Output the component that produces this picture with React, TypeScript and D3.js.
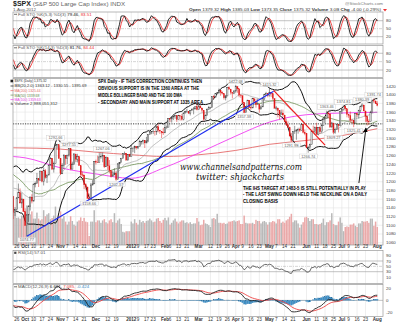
import React from "react";
import * as d3 from "d3";

// ---------- DATA ----------
// warm-up closes Jul 1 2011 .. Sep 21 2011 (for indicators)
const preCloses = [
  1339.67, 1337.88, 1339.22, 1353.22, 1343.8, 1319.49, 1313.64, 1317.72, 1308.87, 1316.14, 1305.44, 1326.73, 1325.84, 1343.8, 1345.02, 1337.43, 1331.94, 1304.89, 1300.67, 1292.28,
  1286.94, 1254.05, 1260.34, 1200.07, 1199.38, 1119.46, 1172.53, 1120.76, 1172.64, 1178.81, 1204.49, 1192.76, 1193.89, 1140.65, 1123.53, 1123.82, 1162.35, 1177.6, 1159.27, 1176.8, 1210.08, 1212.92, 1218.89,
  1204.42, 1173.97, 1165.24, 1198.62, 1185.9, 1154.23, 1162.27, 1172.87, 1188.68, 1209.11, 1216.01, 1204.09, 1202.09, 1166.76,
];
// warm-up highs / lows Sep 1 .. Sep 21 2011
const preHighs = [1230.7, 1203.6, 1165.8, 1198.6, 1204.0, 1185.9, 1162.6, 1176.4, 1202.4, 1209.1, 1220.1, 1216.0, 1220.4, 1204.0];
const preLows = [1195.6, 1170.6, 1136.1, 1165.2, 1183.3, 1148.4, 1136.1, 1157.4, 1162.7, 1189.1, 1204.5, 1188.3, 1201.5, 1166.7];

// displayed days: Sep 22 2011 .. Aug 1 2012
const closes = [
  1129.56, 1136.43, 1162.95, 1175.38, 1151.06, 1160.4, 1131.42,
  1099.23, 1123.95, 1144.03, 1164.97, 1155.46, 1194.89, 1195.54, 1207.25, 1203.66, 1224.58, 1200.86, 1225.38, 1209.88, 1215.39, 1238.25, 1254.19, 1229.05, 1242.0, 1284.59, 1285.09, 1253.3,
  1218.28, 1237.9, 1261.15, 1253.23, 1261.12, 1275.92, 1229.1, 1239.69, 1263.85, 1251.78, 1257.81, 1236.91, 1216.13, 1215.65, 1192.98, 1188.04, 1161.79, 1158.67, 1192.55, 1195.19, 1246.96,
  1244.58, 1244.28, 1257.08, 1258.47, 1261.01, 1234.35, 1255.19, 1236.47, 1225.73, 1211.82, 1215.75, 1219.66, 1205.35, 1241.3, 1243.72, 1254.0, 1265.33, 1265.43, 1249.64, 1263.02, 1257.6,
  1277.06, 1277.3, 1281.06, 1277.81, 1280.7, 1292.08, 1292.48, 1295.5, 1289.09, 1293.67, 1308.04, 1314.5, 1315.38, 1316.0, 1314.65, 1326.06, 1318.43, 1316.33, 1313.01, 1312.41,
  1324.09, 1325.54, 1344.9, 1344.33, 1347.05, 1349.96, 1351.95, 1342.64, 1351.77, 1350.5, 1343.23, 1358.04, 1361.23, 1362.21, 1357.66, 1363.46, 1365.74, 1367.59, 1372.18, 1365.68,
  1374.09, 1369.63, 1364.33, 1343.36, 1352.63, 1365.91, 1370.87, 1371.09, 1395.95, 1394.28, 1402.6, 1404.17, 1409.75, 1405.52, 1402.89, 1392.78, 1397.11, 1416.51, 1412.52, 1405.54, 1403.28, 1408.47,
  1419.04, 1413.38, 1398.96, 1398.08, 1382.2, 1358.59, 1368.71, 1387.57, 1370.26, 1369.57, 1390.78, 1385.14, 1376.92, 1378.53, 1366.94, 1371.97, 1390.69, 1399.98, 1403.36, 1397.91,
  1405.82, 1402.31, 1391.57, 1369.1, 1369.58, 1363.72, 1354.58, 1357.99, 1353.39, 1338.35, 1330.66, 1324.8, 1304.86, 1295.22, 1315.99, 1316.63, 1318.86, 1320.68, 1317.82, 1332.42, 1313.32, 1310.33,
  1278.04, 1278.18, 1285.5, 1315.13, 1314.99, 1325.66, 1308.93, 1324.18, 1314.88, 1329.1, 1342.84, 1344.78, 1357.98, 1355.69, 1325.51, 1335.02, 1313.72, 1319.99, 1331.85, 1329.04, 1362.16,
  1365.51, 1374.02, 1367.58, 1354.68, 1352.46, 1341.47, 1341.45, 1334.76, 1356.78, 1353.64, 1363.67, 1372.78, 1376.51, 1362.66, 1350.52, 1338.31, 1337.89, 1360.02, 1385.97, 1385.3, 1379.32,
  1375.32,
];
const highs = [
  1164.6, 1141.7, 1164.7, 1195.9, 1184.7, 1175.1, 1159.9,
  1138.9, 1125.1, 1146.1, 1165.1, 1171.4, 1194.9, 1200.4, 1220.3, 1203.7, 1224.6, 1224.6, 1233.1, 1229.3, 1216.5, 1239.0, 1256.5, 1254.2, 1246.3, 1292.7, 1287.1, 1284.4,
  1253.2, 1242.5, 1263.2, 1260.2, 1261.7, 1277.6, 1275.9, 1246.2, 1266.0, 1263.9, 1264.3, 1259.6, 1237.8, 1223.5, 1215.6, 1196.8, 1187.5, 1172.7, 1197.4, 1203.7, 1247.0,
  1250.9, 1260.1, 1266.7, 1266.7, 1267.1, 1260.9, 1258.3, 1255.2, 1249.9, 1225.7, 1225.6, 1231.0, 1224.6, 1242.8, 1245.0, 1255.0, 1265.4, 1269.4, 1265.9, 1263.5, 1264.1,
  1284.6, 1278.7, 1283.1, 1282.0, 1281.8, 1296.5, 1293.8, 1296.8, 1295.5, 1303.0, 1308.1, 1315.5, 1315.4, 1322.3, 1315.4, 1328.3, 1333.5, 1319.0, 1316.3, 1324.0,
  1332.0, 1329.2, 1345.3, 1344.4, 1349.2, 1351.0, 1354.3, 1352.0, 1353.4, 1351.6, 1355.9, 1359.0, 1363.4, 1367.8, 1362.2, 1364.2, 1368.9, 1371.9, 1373.1, 1378.0,
  1376.2, 1374.5, 1369.6, 1364.0, 1354.9, 1368.9, 1374.2, 1371.9, 1396.1, 1399.4, 1402.6, 1405.9, 1414.0, 1409.8, 1407.8, 1402.9, 1399.2, 1416.6, 1419.2, 1413.6, 1403.3, 1410.9,
  1422.4, 1419.0, 1413.4, 1401.6, 1398.1, 1383.0, 1373.6, 1388.1, 1387.4, 1379.7, 1392.8, 1390.8, 1390.4, 1391.0, 1378.5, 1375.6, 1391.4, 1402.3, 1406.6, 1403.4,
  1415.3, 1405.5, 1403.1, 1391.6, 1373.9, 1369.6, 1363.7, 1365.9, 1365.9, 1353.4, 1344.9, 1338.7, 1326.4, 1312.2, 1316.0, 1328.5, 1320.7, 1324.1, 1324.2, 1334.9, 1332.4, 1319.7,
  1310.3, 1282.6, 1287.6, 1315.1, 1329.1, 1325.8, 1335.5, 1324.2, 1327.3, 1333.1, 1343.3, 1348.2, 1363.5, 1361.6, 1358.3, 1337.8, 1335.0, 1324.2, 1334.4, 1331.5, 1362.2,
  1366.4, 1374.8, 1373.9, 1367.6, 1354.7, 1361.5, 1345.0, 1341.5, 1357.7, 1357.3, 1365.4, 1375.3, 1380.4, 1376.5, 1362.3, 1351.5, 1343.4, 1363.1, 1389.2, 1391.7, 1387.2,
  1385.0,
];
const lows = [
  1114.2, 1121.4, 1131.1, 1163.0, 1150.4, 1139.9, 1131.3,
  1098.9, 1074.8, 1107.9, 1134.0, 1150.3, 1158.7, 1187.2, 1196.0, 1188.0, 1212.3, 1198.6, 1191.5, 1207.0, 1197.0, 1215.4, 1238.2, 1226.8, 1221.1, 1242.9, 1277.0, 1253.2,
  1215.6, 1218.3, 1229.1, 1238.9, 1240.8, 1257.7, 1226.6, 1229.1, 1239.7, 1246.7, 1244.3, 1236.9, 1209.4, 1211.4, 1183.2, 1181.7, 1161.8, 1158.7, 1158.7, 1191.8, 1196.7,
  1239.7, 1243.4, 1244.3, 1253.0, 1244.8, 1231.5, 1234.4, 1227.2, 1219.4, 1209.5, 1212.0, 1215.2, 1202.4, 1205.5, 1229.5, 1243.7, 1254.0, 1262.3, 1248.6, 1249.6, 1257.5,
  1258.0, 1268.1, 1265.7, 1274.0, 1275.0, 1281.0, 1285.4, 1285.8, 1277.6, 1290.0, 1290.9, 1307.8, 1309.2, 1309.9, 1306.1, 1307.7, 1313.6, 1309.9, 1300.5, 1307.6,
  1312.4, 1321.6, 1325.5, 1337.5, 1335.9, 1341.9, 1344.6, 1337.4, 1342.6, 1340.8, 1340.8, 1341.2, 1357.2, 1358.1, 1355.5, 1352.3, 1363.5, 1354.9, 1366.0, 1363.8,
  1365.9, 1368.9, 1359.1, 1340.0, 1343.4, 1352.6, 1366.0, 1367.1, 1371.1, 1389.8, 1394.0, 1401.1, 1402.4, 1397.7, 1400.6, 1388.7, 1386.9, 1397.1, 1411.9, 1400.7, 1391.4, 1401.4,
  1404.5, 1404.4, 1394.1, 1392.9, 1378.2, 1357.4, 1358.6, 1368.8, 1369.9, 1365.4, 1369.6, 1383.3, 1370.3, 1377.0, 1358.8, 1366.9, 1372.0, 1387.4, 1397.3, 1394.0,
  1395.7, 1394.6, 1387.9, 1367.9, 1363.9, 1347.8, 1343.1, 1355.0, 1348.9, 1336.6, 1328.5, 1324.3, 1304.9, 1292.0, 1295.7, 1310.0, 1296.5, 1310.5, 1314.2, 1318.9, 1311.1, 1306.9,
  1277.3, 1266.7, 1274.3, 1285.6, 1314.1, 1307.8, 1307.7, 1306.6, 1310.5, 1312.1, 1329.4, 1334.5, 1344.9, 1346.5, 1324.4, 1325.9, 1309.3, 1310.3, 1320.2, 1313.3, 1329.0,
  1355.7, 1363.5, 1363.0, 1348.0, 1346.7, 1336.3, 1333.2, 1325.4, 1334.8, 1348.5, 1345.1, 1358.9, 1371.2, 1362.2, 1337.6, 1329.2, 1331.4, 1338.2, 1360.0, 1380.9, 1379.3,
  1373.4,
];
// volume, billions of shares
const volumes = [
  6.7, 5.6, 4.5, 4.6, 4.4, 4.9, 4.9,
  5.6, 6.6, 5.3, 5.1, 5.6, 4.4, 4.4, 5.4, 4.4, 4.1, 4.3, 5.8, 4.8, 5.1, 5.3, 4.3, 4.5, 4.9, 6.4, 4.5, 4.9,
  5.6, 4.4, 4.8, 3.9, 3.4, 3.9, 4.8, 4.0, 3.4, 3.2, 3.9, 4.1, 4.6, 4.0, 4.5, 3.9, 3.8, 1.5, 3.9, 3.9, 5.8,
  3.8, 4.1, 4.1, 3.7, 4.1, 4.3, 3.8, 3.6, 4.1, 4.3, 3.8, 5.3, 3.7, 4.1, 4.4, 3.5, 2.2, 2.1, 2.3, 2.3, 2.3,
  3.9, 3.6, 4.3, 3.7, 3.4, 4.2, 3.8, 4.0, 3.7, 4.0, 4.1, 4.4, 4.1, 3.8, 3.9, 4.4, 4.5, 4.0, 3.7, 4.2,
  4.5, 4.1, 4.6, 3.4, 3.7, 4.1, 4.4, 3.9, 3.6, 3.9, 4.1, 4.1, 3.7, 3.8, 3.6, 3.8, 3.5, 3.6, 3.6, 4.5,
  3.9, 3.3, 3.4, 4.2, 3.6, 3.5, 3.3, 3.0, 4.4, 4.5, 4.3, 5.2, 3.7, 3.7, 3.6, 3.7, 3.5, 3.6, 3.9, 3.9, 4.0, 4.1,
  3.9, 4.0, 4.1, 3.5, 3.5, 4.9, 3.7, 3.6, 3.6, 3.6, 3.7, 3.5, 4.2, 4.0, 4.0, 3.6, 3.9, 4.0, 3.8, 3.4,
  3.8, 3.8, 4.0, 3.9, 3.6, 4.3, 4.3, 3.7, 3.9, 3.7, 4.1, 4.3, 4.7, 5.2, 3.8, 4.1, 4.1, 3.6, 2.9, 3.4, 3.8, 4.6,
  4.7, 4.5, 4.0, 4.3, 4.3, 3.5, 3.5, 3.4, 3.5, 3.7, 4.4, 3.3, 3.8, 3.8, 4.1, 5.3, 3.5, 3.3, 3.3, 3.9, 4.6,
  3.7, 2.3, 3.0, 3.1, 3.0, 3.4, 3.4, 3.6, 3.2, 3.0, 3.6, 3.6, 4.0, 3.9, 3.9, 4.0, 3.7, 4.4, 4.4, 3.2, 3.9,
  3.0,
];

// x-axis tick labels: [label, day index, bold]
const tickLabels: [string, number, boolean][] = [
  ["26", 2, false], ["Oct", 7, true], ["10", 12, false], ["17", 17, false], ["24", 22, false],
  ["Nov", 28, true], ["7", 32, false], ["14", 37, false], ["21", 42, false],
  ["Dec", 49, true], ["12", 56, false], ["19", 61, false],
  ["2012", 70, true], ["9", 74, false], ["17", 79, false], ["23", 83, false],
  ["Feb", 90, true], ["6", 93, false], ["13", 98, false], ["21", 103, false],
  ["Mar", 110, true], ["12", 117, false], ["19", 122, false], ["26", 127, false],
  ["Apr", 132, true], ["9", 136, false], ["16", 141, false], ["23", 146, false],
  ["May", 152, true], ["7", 156, false], ["14", 161, false], ["21", 166, false],
  ["Jun", 174, true], ["11", 180, false], ["18", 185, false], ["25", 190, false],
  ["Jul", 195, true], ["9", 199, false], ["16", 204, false], ["23", 209, false],
  ["Aug", 216, true],
];
const priceTicks = [1060, 1080, 1100, 1120, 1140, 1160, 1180, 1200, 1220, 1240, 1260, 1280, 1300, 1320, 1340, 1360, 1380, 1400, 1420];

// long moving averages: [day index, value]
const ma100Points: [number, number][] = [[0, 1258], [7, 1255], [28, 1232], [49, 1218], [70, 1208], [90, 1233], [110, 1266], [132, 1305], [152, 1337], [174, 1354], [195, 1358], [216, 1359.6]];
const ma200Points: [number, number][] = [[0, 1278], [28, 1275], [49, 1268], [70, 1262], [90, 1258], [110, 1262], [132, 1272], [152, 1286], [174, 1295], [195, 1306], [216, 1322]];

// price labels on swing points: [day index, price, label, above?]
const swingLabels: [number, number, string, boolean][] = [
  [8, 1074.77, "1074.77", false], [25, 1292.66, "1292.66", true], [33, 1277.55, "1277.55", true],
  [45, 1158.66, "1158.66", false], [53, 1267.06, "1267.06", true], [61, 1202.37, "1202.37", false],
  [132, 1422.38, "1422.38", true], [137, 1357.38, "1357.38", false], [152, 1415.32, "1415.32", true],
  [165, 1291.98, "1291.98", false], [175, 1266.74, "1266.74", false], [186, 1363.46, "1363.46", true],
  [190, 1309.27, "1309.27", false], [196, 1374.81, "1374.81", true], [202, 1325.41, "1325.41", false],
  [207, 1380.39, "1380.39", true], [214, 1391.74, "1391.74", true],
];
// drawn lines: [day index, price]
const blueLine: [number, number][] = [[8, 1074.77], [154.5, 1408]];
const redLine: [number, number][] = [[154.5, 1410], [185, 1284]];
const arrowLine: [number, number][] = [[205.1, 1197], [209.3, 1323.5]];
const necklinePrice = 1333;

const note1 = [
  "SPX Daily - IF THIS CORRECTION CONTINUES THEN",
  "OBVIOUS SUPPORT IS IN THE 1360 AREA AT THE",
  "MIDDLE BOLLINGER BAND AND THE 100 DMA",
  "- SECONDARY AND MAIN SUPPORT AT 1335 AREA",
];
const note1Len = [104, 101, 84, 105];
const note2 = [
  "THE IHS TARGET AT 1483-5 IS STILL POTENTIALLY IN PLAY",
  "- THE LAST SWING DOWN HELD THE NECKLINE ON A DAILY",
  "CLOSING BASIS",
];
const note2Len = [123, 124, 35];

// ---------- helpers ----------
function sma(a: number[], n: number): number[] {
  return a.map((_, i) => {
    if (i < n - 1) return NaN;
    let s = 0;
    for (let j = i - n + 1; j <= i; j++) {
      if (isNaN(a[j])) return NaN;
      s += a[j];
    }
    return s / n;
  });
}
function sd(a: number[], n: number): number[] {
  const m = sma(a, n);
  return a.map((_, i) => {
    if (isNaN(m[i])) return NaN;
    let s = 0;
    for (let j = i - n + 1; j <= i; j++) s += (a[j] - m[i]) ** 2;
    return Math.sqrt(s / n);
  });
}
function ema(a: number[], n: number): number[] {
  const k = 2 / (n + 1);
  const out: number[] = [];
  let prev = NaN;
  a.forEach((v, i) => {
    if (isNaN(v)) { out.push(NaN); return; }
    prev = isNaN(prev) ? v : v * k + prev * (1 - k);
    out.push(prev);
  });
  return out;
}
function rsi(c: number[], n: number): number[] {
  const out = c.map(() => NaN);
  let g = 0, l = 0;
  for (let i = 1; i <= n; i++) {
    const d = c[i] - c[i - 1];
    if (d > 0) g += d; else l -= d;
  }
  g /= n; l /= n;
  out[n] = 100 - 100 / (1 + g / l);
  for (let i = n + 1; i < c.length; i++) {
    const d = c[i] - c[i - 1];
    g = (g * (n - 1) + Math.max(d, 0)) / n;
    l = (l * (n - 1) + Math.max(-d, 0)) / n;
    out[i] = 100 - 100 / (1 + g / l);
  }
  return out;
}
function fullSto(h: number[], l: number[], c: number[], n: number, ks: number, ds: number) {
  const raw = c.map((v, i) => {
    if (i < n - 1) return NaN;
    const hh = d3.max(h.slice(i - n + 1, i + 1))!;
    const ll = d3.min(l.slice(i - n + 1, i + 1))!;
    return hh === ll ? 50 : (100 * (v - ll)) / (hh - ll);
  });
  const k = sma(raw, ks);
  const d = sma(k, ds);
  return { k, d };
}

const FONT = "Liberation Sans, Arial, sans-serif";

export default function App() {
  const OFF = preCloses.length;
  const allC = preCloses.concat(closes);
  const allH = preCloses.slice(0, OFF - preHighs.length).concat(preHighs, highs);
  const allL = preCloses.slice(0, OFF - preLows.length).concat(preLows, lows);
  const N = closes.length;
  const opens = closes.map((_, i) => allC[OFF + i - 1]);
  const disp = (a: number[]) => a.slice(OFF);

  const L = 13, R = 383;
  const x = d3.scaleLinear().domain([-0.2, 219.4]).range([L, R]);
  const yP = d3.scaleLinear().domain([1060, 1420]).range([242.7, 86]);
  const yV = d3.scaleLinear().domain([0, 10]).range([245, 185]);
  const yS1 = d3.scaleLinear().domain([0, 100]).range([42.0, 15.4]);
  const yS2 = d3.scaleLinear().domain([0, 100]).range([75.6, 47.7]);
  const yR = d3.scaleLinear().domain([0, 100]).range([279.7, 253]);
  const yM = d3.scaleLinear().domain([-20, 20]).range([312, 288.7]);

  const panels = {
    s1: [12, 44],
    s2: [45.5, 77.5],
    main: [78.5, 245],
    rsi: [250.5, 283.5],
    macd: [284.5, 316.5],
  } as Record<string, [number, number]>;

  const mkLine = (vals: number[], ys: d3.ScaleLinear<number, number>) =>
    d3.line<number>().defined((v) => !isNaN(v)).x((_, i) => x(i)).y((v) => ys(v))(vals) || "";
  const ptsLine = (pts: [number, number][], curve = false) => {
    const g = d3.line<[number, number]>().x((d) => x(d[0])).y((d) => yP(d[1]));
    if (curve) g.curve(d3.curveMonotoneX);
    return g(pts) || "";
  };

  // indicators
  const mid = sma(allC, 20);
  const dev = sd(allC, 20);
  const bbU = disp(mid.map((m, i) => m + 2 * dev[i]));
  const bbL = disp(mid.map((m, i) => m - 2 * dev[i]));
  const bbM = disp(mid);
  const ma50 = disp(sma(allC, 50));
  const sto1 = fullSto(allH, allL, allC, 5, 3, 3);
  const sto2 = fullSto(allH, allL, allC, 14, 3, 3);
  const rsiV = disp(rsi(allC, 14));
  const e12 = ema(allC, 12), e26 = ema(allC, 26);
  const macdAll = e12.map((v, i) => v - e26[i]);
  const sigAll = ema(macdAll, 9);
  const macd = disp(macdAll), sig = disp(sigAll);
  const hist = macd.map((v, i) => v - sig[i]);

  const clip = (id: string, p: [number, number]) => (
    <clipPath id={id} key={id}>
      <rect x={L} y={p[0]} width={R - L} height={p[1] - p[0]} />
    </clipPath>
  );

  const vGrid = (p: [number, number], key: string) =>
    tickLabels.map(([, idx], j) => (
      <line key={key + j} x1={x(idx)} x2={x(idx)} y1={p[0]} y2={p[1]} stroke="#e3e3e3" strokeWidth={0.6} />
    ));

  const frame = (p: [number, number], key: string) => (
    <rect key={key} x={L} y={p[0]} width={R - L} height={p[1] - p[0]} fill="none" stroke="#999" strokeWidth={0.7} />
  );

  const axisText = (y: number, t: string, key: string) => (
    <text key={key} x={R + 3} y={y + 1.5} fontSize={4.4} fill="#444" fontFamily={FONT}>{t}</text>
  );

  const xLabels = (y: number, key: string) =>
    tickLabels.map(([t, idx, b], j) => (
      <text key={key + j} x={x(idx)} y={y} fontSize={4.6} textAnchor="middle" fontWeight={b ? "bold" : "normal"} fill="#333" fontFamily={FONT}>
        {t}
      </text>
    ));

  const stoPanel = (p: [number, number], ys: d3.ScaleLinear<number, number>, s: { k: number[]; d: number[] }, label: string, kv: string, dv: string, key: string) => (
    <g key={key}>
      {vGrid(p, key + "g")}
      {[20, 80].map((v) => <line key={v} x1={L} x2={R} y1={ys(v)} y2={ys(v)} stroke="#9a9a9a" strokeWidth={0.6} />)}
      <line x1={L} x2={R} y1={ys(50)} y2={ys(50)} stroke="#aaa" strokeWidth={0.5} strokeDasharray="3,1,1,1" />
      <g clipPath={`url(#${key}c)`}>
        <path d={mkLine(disp(s.d), ys)} fill="none" stroke="#ee3333" strokeWidth={0.9} />
        <path d={mkLine(disp(s.k), ys)} fill="none" stroke="#111" strokeWidth={0.9} />
      </g>
      {frame(p, key + "f")}
      {[80, 50, 20].map((v) => axisText(ys(v), String(v), key + "a" + v))}
      <g fontFamily={FONT} fontSize={4.4}>
        <line x1={L + 1} x2={L + 4} y1={p[0] + 2.3} y2={p[0] + 2.3} stroke="#333" strokeWidth={0.7} />
        <text x={L + 5} y={p[0] + 3.8} fill="#555">
          {label} <tspan fill="#111">{kv}</tspan> <tspan fill="#e33">{dv}</tspan>
        </text>
      </g>
    </g>
  );

  const mp = panels.main;

  return (
    <svg width={400} height={323} viewBox="0 0 400 323" style={{ position: "absolute", left: 0, top: 0, background: "#fff" }} fontFamily={FONT}>
      <defs>
        {clip("s1c", panels.s1)}
        {clip("s2c", panels.s2)}
        {clip("mainc", panels.main)}
        {clip("rsic", panels.rsi)}
        {clip("macdc", panels.macd)}
        <marker id="arr" viewBox="0 0 10 10" refX="9" refY="5" markerWidth="5" markerHeight="5" orient="auto">
          <path d="M0,0 L10,5 L0,10 z" fill="#000" />
        </marker>
      </defs>
      <rect x={0} y={0} width={400} height={323} fill="#fff" />

      {/* header */}
      <text x={13} y={6} fontSize={6.2} fill="#222">
        <tspan fontWeight="bold" fontSize={7}>$SPX</tspan>
        <tspan fill="#666"> (S&amp;P 500 Large Cap Index) INDX</tspan>
      </text>
      <text x={13} y={11.3} fontSize={4.4} fill="#555">1-Aug-2012</text>
      <text x={383} y={5} fontSize={4.4} fill="#777" textAnchor="end">@StockCharts.com</text>
      <text x={189} y={11.3} fontSize={4.4} fill="#333" textLength={192} lengthAdjust="spacingAndGlyphs">
        <tspan fontWeight="bold">Open</tspan> 1379.32 <tspan fontWeight="bold">High</tspan> 1385.03{" "}
        <tspan fontWeight="bold">Low</tspan> 1373.35 <tspan fontWeight="bold">Close</tspan> 1375.32{" "}
        <tspan fontWeight="bold">Volume</tspan> 3.0B <tspan fontWeight="bold">Chg</tspan> -4.00 (-0.29%)
      </text>
      <path d="M383,9 L387,9 L385,11.5 z" fill="#e33" />

      {stoPanel(panels.s1, yS1, sto1, "Full STO %K(5,3) %D(3)", "79.46,", "83.51", "s1")}
      {stoPanel(panels.s2, yS2, sto2, "Full STO %K(14,3) %D(3)", "81.76,", "84.44", "s2")}

      {/* MAIN PANEL */}
      <g>
        {vGrid(mp, "mg")}
        {priceTicks.map((p) => (
          <line key={p} x1={L} x2={R} y1={yP(p)} y2={yP(p)} stroke="#e6e6e6" strokeWidth={0.6} />
        ))}
        <g clipPath="url(#mainc)">
          {/* volume */}
          {volumes.map((v, i) => {
            const down = closes[i] < allC[OFF + i - 1];
            return (
              <rect key={i} x={x(i) - 0.75} width={1.5} y={yV(v)} height={245 - yV(v)} fill={down ? "#eaa9a9" : "#b9b9b9"} />
            );
          })}
          {/* moving averages & bands */}
          <path d={ptsLine(ma200Points, true)} fill="none" stroke="#e46a6a" strokeWidth={0.9} />
          <path d={ptsLine(ma100Points, true)} fill="none" stroke="#f03cf0" strokeWidth={0.9} />
          <path d={mkLine(ma50, yP)} fill="none" stroke="#6c8f52" strokeWidth={0.8} />
          <path d={mkLine(bbM, yP)} fill="none" stroke="#999" strokeWidth={0.6} />
          <path d={mkLine(bbU, yP)} fill="none" stroke="#111" strokeWidth={1} />
          <path d={mkLine(bbL, yP)} fill="none" stroke="#111" strokeWidth={1} />
          {/* neckline */}
          <line x1={L} x2={R} y1={yP(necklinePrice)} y2={yP(necklinePrice)} stroke="#111" strokeWidth={0.8} strokeDasharray="1.2,1.2" />
          {/* candles */}
          {closes.map((c, i) => {
            const o = opens[i];
            const up = c >= o;
            const col = up ? "#333" : "#e01818";
            const hi = Math.max(highs[i], o, c), lo = Math.min(lows[i], o, c);
            const top = yP(Math.max(o, c)), bot = yP(Math.min(o, c));
            return (
              <g key={i}>
                <line x1={x(i)} x2={x(i)} y1={yP(hi)} y2={yP(lo)} stroke={col} strokeWidth={0.5} />
                <rect x={x(i) - 0.6} width={1.2} y={top} height={Math.max(bot - top, 0.4)} fill={up ? "#fff" : col} stroke={col} strokeWidth={up ? 0.45 : 0.2} />
              </g>
            );
          })}
          {/* trend lines */}
          <path d={ptsLine(blueLine)} stroke="#1f2ef0" strokeWidth={1.2} fill="none" />
          <path d={ptsLine(redLine)} stroke="#ee1c1c" strokeWidth={1.2} fill="none" />
          <path d={ptsLine(arrowLine)} stroke="#000" strokeWidth={0.9} fill="none" markerEnd="url(#arr)" />
          {/* swing labels */}
          {swingLabels.map(([idx, p, t, above], j) => {
            const cx = x(idx);
            const cy = above ? yP(p) - 3.6 : yP(p) + 3.6;
            return (
              <g key={j}>
                <rect x={cx - 9} y={cy - 2.3} width={18} height={4.6} fill="#fff" fillOpacity={0.85} stroke="#c8c8c8" strokeWidth={0.4} />
                <text x={cx} y={cy + 1.4} fontSize={3.9} fill="#666" textAnchor="middle">{t}</text>
              </g>
            );
          })}
        </g>
        {frame(mp, "mf")}
        {priceTicks.map((p) => axisText(yP(p), String(p), "pa" + p))}

        {/* legend */}
        <g fontSize={4.3}>
          <rect x={10.5} y={79.7} width={2.6} height={2.6} fill="#222" />
          <text x={14.5} y={82.4} fill="#333" textLength={32} lengthAdjust="spacingAndGlyphs">$SPX (Daily) 1,375.32</text>
          <line x1={10.5} x2={13.5} y1={86} y2={86} stroke="#111" strokeWidth={0.7} />
          <text x={14.5} y={87.4} fill="#333" textLength={72} lengthAdjust="spacingAndGlyphs">BB(20,2.0) 1363.12 - 1330.55 - 1395.69</text>
          <line x1={10.5} x2={13.5} y1={90.6} y2={90.6} stroke="#e46a6a" strokeWidth={0.7} />
          <text x={14.5} y={92} fill="#e46a6a" textLength={26} lengthAdjust="spacingAndGlyphs">MA(200) 1325.44</text>
          <line x1={10.5} x2={13.5} y1={95.1} y2={95.1} stroke="#6c8f52" strokeWidth={0.7} />
          <text x={14.5} y={96.5} fill="#6c8f52" textLength={25} lengthAdjust="spacingAndGlyphs">MA(50) 1339.68</text>
          <line x1={10.5} x2={13.5} y1={99.6} y2={99.6} stroke="#f03cf0" strokeWidth={0.7} />
          <text x={14.5} y={101} fill="#e03ae0" textLength={26} lengthAdjust="spacingAndGlyphs">MA(100) 1359.63</text>
          <rect x={10.8} y={102.6} width={0.8} height={2.2} fill="#555" />
          <rect x={12} y={103.4} width={0.8} height={1.4} fill="#555" />
          <text x={14.5} y={105.4} fill="#333" textLength={43} lengthAdjust="spacingAndGlyphs">Volume 2,988,051,312</text>
        </g>

        {/* annotations */}
        <g fontWeight="bold" fontSize={5} fill="#000">
          {note1.map((t, j) => (
            <text key={j} x={98} y={82.8 + j * 7} textLength={note1Len[j]} lengthAdjust="spacingAndGlyphs">{t}</text>
          ))}
          {note2.map((t, j) => (
            <text key={j} x={243} y={189.8 + j * 6.6} textLength={note2Len[j]} lengthAdjust="spacingAndGlyphs">{t}</text>
          ))}
        </g>
        <g fontFamily="DejaVu Serif, serif" fontStyle="italic" fill="#111">
          <text x={180} y={169.5} fontSize={9} textLength={122} lengthAdjust="spacingAndGlyphs">www.channelsandpatterns.com</text>
          <text x={196} y={179.5} fontSize={9} textLength={88} lengthAdjust="spacingAndGlyphs">twitter: shjackcharts</text>
        </g>
      </g>

      {xLabels(248.3, "xl1")}

      {/* RSI */}
      <g>
        {vGrid(panels.rsi, "rg")}
        {[70, 30].map((v) => <line key={v} x1={L} x2={R} y1={yR(v)} y2={yR(v)} stroke="#9a9a9a" strokeWidth={0.6} />)}
        <line x1={L} x2={R} y1={yR(50)} y2={yR(50)} stroke="#aaa" strokeWidth={0.5} strokeDasharray="3,1,1,1" />
        <g clipPath="url(#rsic)">
          <path d={mkLine(rsiV, yR)} fill="none" stroke="#444" strokeWidth={0.8} />
        </g>
        {frame(panels.rsi, "rf")}
        {[90, 70, 50, 30, 10].map((v) => axisText(yR(v), String(v), "ra" + v))}
        <g fontSize={4.4}>
          <rect x={L + 1.2} y={panels.rsi[0] + 1.2} width={2.2} height={2.2} fill="#444" />
          <text x={L + 5} y={panels.rsi[0] + 3.6} fill="#555">RSI(14) 57.01</text>
        </g>
      </g>

      {/* MACD */}
      <g>
        {vGrid(panels.macd, "cg")}
        <line x1={L} x2={R} y1={yM(0)} y2={yM(0)} stroke="#9a9a9a" strokeWidth={0.6} />
        <g clipPath="url(#macdc)">
          {hist.map((h, i) => (
            <rect key={i} x={x(i) - 0.8} width={1.6} y={Math.min(yM(h), yM(0))} height={Math.abs(yM(h) - yM(0))} fill="#3d8fc6" stroke="#2a6f9f" strokeWidth={0.15} />
          ))}
          <path d={mkLine(sig, yM)} fill="none" stroke="#ee4444" strokeWidth={0.9} />
          <path d={mkLine(macd, yM)} fill="none" stroke="#222" strokeWidth={0.9} />
        </g>
        {frame(panels.macd, "cf")}
        {[20, 0, -20].map((v) => axisText(yM(v), String(v), "ca" + v))}
        <g fontSize={4.4}>
          <line x1={L + 1} x2={L + 4} y1={panels.macd[0] + 2.3} y2={panels.macd[0] + 2.3} stroke="#333" strokeWidth={0.7} />
          <text x={L + 5} y={panels.macd[0] + 3.8} fill="#555">
            MACD(12,26,9) <tspan fill="#222">6.661,</tspan> <tspan fill="#e44">7.085,</tspan> <tspan fill="#3d8fc6">-0.424</tspan>
          </text>
        </g>
      </g>

      {xLabels(320.5, "xl2")}
    </svg>
  );
}
